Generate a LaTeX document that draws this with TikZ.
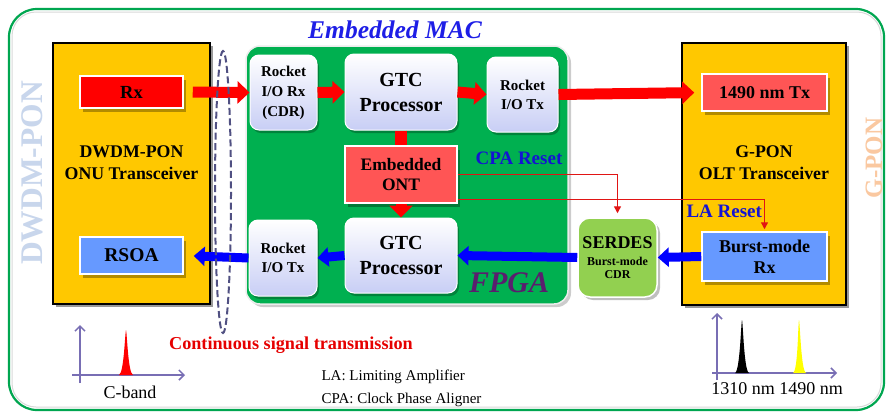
\documentclass[tikz,border=0pt]{standalone}
\usepackage{fontspec}
\setmainfont{Liberation Serif}
\usetikzlibrary{arrows.meta,shadows,calc}

\definecolor{onuyellow}{RGB}{255,200,0}
\definecolor{fpgagreen}{RGB}{0,176,80}
\definecolor{serdesgreen}{RGB}{146,208,80}
\definecolor{rxred}{RGB}{255,0,0}
\definecolor{softred}{RGB}{255,85,85}
\definecolor{boxblue}{RGB}{102,153,255}
\definecolor{procbottom}{RGB}{200,206,245}
\definecolor{framegreen}{RGB}{0,166,80}
\definecolor{resetblue}{RGB}{20,20,210}
\definecolor{macblue}{RGB}{30,30,230}
\definecolor{fpgapurple}{RGB}{90,30,110}
\definecolor{ringgray}{RGB}{80,80,130}
\definecolor{axispurple}{RGB}{120,110,180}
\definecolor{dwdmtint}{RGB}{200,214,236}
\definecolor{gpontint}{RGB}{250,200,160}
\definecolor{linkred}{RGB}{225,20,20}
\definecolor{peakyellow}{RGB}{255,255,0}
\definecolor{textred}{RGB}{230,0,0}

\newcommand{\tsize}[2]{\fontsize{#1}{#2}\selectfont}

\begin{document}
\begin{tikzpicture}[x=1pt,y=-1pt,
  transceiver/.style={draw=black, line width=1.3pt, fill=onuyellow,
    drop shadow={shadow xshift=3pt, shadow yshift=-3pt, fill=black, opacity=0.4}},
  portbox/.style={draw=white, line width=1.5pt, inner sep=0pt,
    drop shadow={shadow xshift=3pt, shadow yshift=-4pt, fill=black, opacity=0.3},
    font=\bfseries},
  procbox/.style={rounded corners=9pt, top color=white, bottom color=procbottom,
    draw=white, line width=1pt, inner sep=0pt, align=center, font=\bfseries,
    drop shadow={shadow xshift=2pt, shadow yshift=-3pt, fill=black, opacity=0.25}},
  redarrow/.style={draw=rxred, line width=11pt, -{Triangle[length=12pt,width=22pt]}},
  bluearrow/.style={draw=blue, line width=9pt, -{Triangle[length=11pt,width=19pt]}},
  resetlink/.style={draw=linkred, line width=1.3pt, -{Triangle[length=7pt,width=7pt]}},
  axis/.style={draw=axispurple, line width=1.5pt, -{Straight Barb[length=5pt,width=10pt]}},
  resetlabel/.style={text=resetblue, font=\bfseries\tsize{19}{22}},
]
\useasboundingbox (0,0) rectangle (886,413);
\fill[white] (0,0) rectangle (886,413);

% outer frame
\draw[gray!30, line width=1pt, rounded corners=24pt] (12,12) rectangle (881,407);
\draw[framegreen, line width=2.2pt, rounded corners=28pt] (9,9) rectangle (884,410);

% side captions
\node[rotate=90, text=dwdmtint, font=\bfseries\tsize{31.5}{34}] (dwdmcap) at (32,173) {DWDM-PON};
\node[rotate=90, text=gpontint, font=\bfseries\tsize{25}{28}] (gponcap) at (874,158) {G-PON};

% ONU transceiver
\node[transceiver, minimum width=157pt, minimum height=261pt] (onu) at (131.5,173.5) {};
\node[align=center, font=\bfseries\tsize{17.8}{22}] (onulabel) at (131.5,163) {DWDM-PON\\ONU Transceiver};
\node[portbox, fill=rxred, minimum width=103pt, minimum height=32pt, font=\bfseries\tsize{18.5}{20}] (rx) at (131.5,92) {Rx};
\node[portbox, fill=boxblue, minimum width=103pt, minimum height=37pt, font=\bfseries\tsize{19.5}{21}] (rsoa) at (131.5,255.5) {RSOA};

% FPGA
\node[draw=white!85!gray, line width=1.5pt, fill=fpgagreen, rounded corners=14pt,
  minimum width=322pt, minimum height=258pt,
  drop shadow={shadow xshift=3pt, shadow yshift=-3pt, fill=black, opacity=0.2}] (fpga) at (407,175) {};
\node[text=macblue, font=\bfseries\itshape\tsize{25.5}{28}] (maclabel) at (395,30) {Embedded MAC};
\node[text=fpgapurple, font=\bfseries\itshape\tsize{30}{32}] (fpgalabel) at (509,283) {FPGA};

\node[procbox, minimum width=67pt, minimum height=75pt, font=\bfseries\tsize{15}{20}] (rrx) at (283.5,92.5) {Rocket\\I/O Rx\\(CDR)};
\node[procbox, minimum width=112pt, minimum height=76pt, font=\bfseries\tsize{20}{25}] (gtc1) at (401,92) {GTC\\Processor};
\node[procbox, minimum width=71pt, minimum height=75pt, font=\bfseries\tsize{15}{19}] (rtx1) at (522.5,94.5) {Rocket\\I/O Tx};
\node[portbox, fill=softred, minimum width=112pt, minimum height=57pt, align=center, font=\bfseries\tsize{17.5}{20}] (ont) at (401,174.5) {Embedded\\ONT};
\node[procbox, minimum width=68pt, minimum height=76pt, font=\bfseries\tsize{15}{19}] (rtx2) at (283,258) {Rocket\\I/O Tx};
\node[procbox, minimum width=112pt, minimum height=75pt, font=\bfseries\tsize{20}{25}] (gtc2) at (401,255.5) {GTC\\Processor};
\node[resetlabel] (cpalabel) at (519,158) {CPA Reset};

% SERDES
\node[draw=white, line width=1.5pt, fill=serdesgreen, rounded corners=12pt,
  minimum width=79pt, minimum height=79pt, inner sep=0pt,
  drop shadow={shadow xshift=3pt, shadow yshift=-3pt, fill=black, opacity=0.25}] (serdes) at (617.5,257.5) {};
\node[font=\bfseries\tsize{18}{19}, inner sep=0pt] (serdesname) at (617.5,243) {SERDES};
\node[font=\bfseries\tsize{12}{14}, inner sep=0pt] (serdesmode) at (617.5,261) {Burst-mode};
\node[font=\bfseries\tsize{12}{14}, inner sep=0pt] (serdescdr) at (617.5,275) {CDR};

% OLT transceiver
\node[transceiver, minimum width=164pt, minimum height=262pt] (olt) at (764,174) {};
\node[align=center, font=\bfseries\tsize{17.8}{22}] (oltlabel) at (764,163) {G-PON\\OLT Transceiver};
\node[portbox, fill=softred, minimum width=125pt, minimum height=37pt, font=\bfseries\tsize{18}{20}] (tx1490) at (764.5,92.5) {1490 nm Tx};
\node[portbox, fill=boxblue, minimum width=125pt, minimum height=49pt, align=center, font=\bfseries\tsize{18}{21}] (bmrx) at (764.5,256.5) {Burst-mode\\Rx};
\node[resetlabel, anchor=west] (lalabel) at (683,211) {LA Reset};

% downstream path
\draw[redarrow, shorten <=9pt] (rx.east) -- (rrx.west);
\draw[redarrow] (rrx.east) -- (gtc1.west);
\draw[redarrow] (gtc1.east) -- (rtx1.west);
\draw[redarrow, shorten >=7pt] (rtx1.east) -- (tx1490.west);
\draw[rxred, line width=12pt] (gtc1.south) -- (ont.north);
\draw[draw=rxred, line width=11pt, -{Triangle[length=12pt,width=23pt]}] (ont.south) -- (gtc2.north);

% upstream path
\draw[bluearrow] (bmrx.west) -- (serdes.east);
\draw[bluearrow] (serdes.west) -- (gtc2.east);
\draw[bluearrow] (gtc2.west) -- (rtx2.east);
\draw[bluearrow, shorten >=10pt] (rtx2.west) -- (rsoa.east);

% reset signals
\draw[resetlink, shorten >=4pt] (ont.east) -| (serdes.north);
\draw[resetlink, shorten >=2pt] ([yshift=4pt]ont.south east) -| (bmrx.north);

% fibre link ring
\draw[ringgray, line width=2pt, dash pattern=on 7pt off 3.5pt] (223,192) ellipse [x radius=8, y radius=141];
\node[text=textred, font=\bfseries\tsize{18.2}{20}] (contlabel) at (291,345) {Continuous signal transmission};

% spectrum of the ONU
\draw[axis] (80,383) -- (80,325);
\draw[axis] (72,375) -- (185,375);
\fill[rxred] (119,375) .. controls (124,373) and (125,332) .. (126,330)
  .. controls (127,332) and (128,373) .. (133,375) -- cycle;
\node[font=\tsize{18}{20}] (cband) at (130,392) {C-band};

% spectrum of the OLT
\draw[axis] (717,380) -- (717,313);
\draw[axis] (712,373) -- (837,373);
\fill[black] (735,373) .. controls (740,371) and (741,322) .. (742,320)
  .. controls (743,322) and (744,371) .. (749,373) -- cycle;
\fill[peakyellow] (793,373) .. controls (798,371) and (798,322) .. (799,320)
  .. controls (800,322) and (801,371) .. (806,373) -- cycle;
\node[font=\tsize{18}{20}] (wavelabel) at (777,389) {1310 nm 1490 nm};

% abbreviations
\node[anchor=west, font=\tsize{15}{18}] (laabbr) at (318,377) {LA: Limiting Amplifier};
\node[anchor=west, font=\tsize{15}{18}] (cpaabbr) at (318,400) {CPA: Clock Phase Aligner};
\end{tikzpicture}
\end{document}
